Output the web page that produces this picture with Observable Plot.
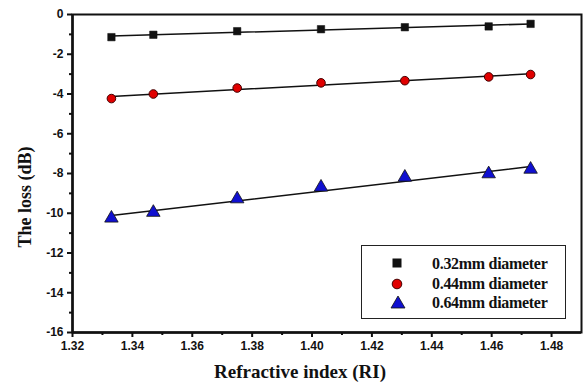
<!DOCTYPE html>
<html>
<head>
<meta charset="utf-8">
<script src="https://cdn.jsdelivr.net/npm/d3@7"></script>
<script src="https://cdn.jsdelivr.net/npm/@observablehq/plot@0.6"></script>
<style>
  html, body { margin: 0; padding: 0; background: #fff; }
  #wrap { position: relative; width: 583px; height: 385px; overflow: hidden; }
  .title { position: absolute; font-family: 'Liberation Serif', 'Times New Roman', 'DejaVu Serif', serif; font-weight: bold; color: #111; white-space: nowrap; }
  #legend { position: absolute; left: 361px; top: 245px; width: 205px; height: 74px; border: 1.5px solid #222; background: #fff; box-sizing: border-box; }
  .row { position: absolute; left: 0; height: 20px; width: 100%; }
  .row svg { position: absolute; left: 28px; top: 0; }
  .row span { position: absolute; left: 70px; top: 0; line-height: 20px; font-family: 'Liberation Serif', 'Times New Roman', 'DejaVu Serif', serif; font-weight: bold; font-size: 16px; color: #111; letter-spacing: -0.3px; }
</style>
</head>
<body>
<div id="wrap"></div>
<script>
const ri = [1.333, 1.347, 1.375, 1.403, 1.431, 1.459, 1.473];
const loss032 = [-1.14, -1.02, -0.84, -0.74, -0.64, -0.60, -0.47];
const loss044 = [-4.23, -4.00, -3.70, -3.44, -3.33, -3.14, -3.02];
const loss064 = [-10.25, -9.96, -9.28, -8.69, -8.19, -8.02, -7.79];
const seriesNames = ["0.32mm diameter", "0.44mm diameter", "0.64mm diameter"];
const xTicks = [1.32, 1.34, 1.36, 1.38, 1.40, 1.42, 1.44, 1.46, 1.48];
const xMinor = [1.33, 1.35, 1.37, 1.39, 1.41, 1.43, 1.45, 1.47];
const yTicks = [0, -2, -4, -6, -8, -10, -12, -14, -16];
const yMinor = [-1, -3, -5, -7, -9, -11, -13, -15];

const d032 = ri.map((x, i) => ({x, y: loss032[i]}));
const d044 = ri.map((x, i) => ({x, y: loss044[i]}));
const d064 = ri.map((x, i) => ({x, y: loss064[i]}));

const tickFont = {fontFamily: "Liberation Sans, Arial, sans-serif", fontWeight: "bold", fontSize: 12};

const chart = Plot.plot({
  width: 583, height: 385,
  marginLeft: 72, marginRight: 2, marginTop: 14, marginBottom: 53,
  style: {background: "#fff", color: "#111", overflow: "visible"},
  x: {domain: [1.32, 1.49]},
  y: {domain: [-16, 0]},
  marks: [
    Plot.axisX(xTicks, {tickSize: 5, tickPadding: 4, strokeWidth: 2, tickFormat: d => d.toFixed(2), label: null, ...tickFont}),
    Plot.axisX(xMinor, {tickSize: 3, strokeWidth: 2, text: null, label: null}),
    Plot.axisY(yTicks, {tickSize: 5, tickPadding: 4, strokeWidth: 2, tickFormat: d => String(d), label: null, ...tickFont}),
    Plot.axisY(yMinor, {tickSize: 3, strokeWidth: 2, text: null, label: null}),
    Plot.frame({stroke: "#111", strokeWidth: 2}),
    Plot.ruleX([1.32], {stroke: "#111", strokeWidth: 2.5}),
    Plot.ruleY([-16], {stroke: "#111", strokeWidth: 2.5}),
    Plot.linearRegressionY(d032, {x: "x", y: "y", ci: 0, stroke: "#111", strokeWidth: 1.5}),
    Plot.linearRegressionY(d044, {x: "x", y: "y", ci: 0, stroke: "#111", strokeWidth: 1.5}),
    Plot.linearRegressionY(d064, {x: "x", y: "y", ci: 0, stroke: "#111", strokeWidth: 1.5}),
    Plot.dot(d032, {x: "x", y: "y", symbol: "square", r: 4.2, fill: "#111", stroke: "#111", strokeWidth: 0.5}),
    Plot.dot(d044, {x: "x", y: "y", symbol: "circle", r: 4.3, fill: "#e00000", stroke: "#400", strokeWidth: 1}),
    Plot.dot(d064, {x: "x", y: "y", symbol: "triangle", r: 5, fill: "#1010d0", stroke: "#111", strokeWidth: 0.8})
  ]
});

const wrap = document.getElementById("wrap");
wrap.appendChild(chart);

const yt = document.createElement("div");
yt.className = "title";
yt.textContent = "The loss (dB)";
yt.style.cssText += "font-size:18px;left:25px;top:197px;transform:translate(-50%,-50%) rotate(-90deg);";
wrap.appendChild(yt);

const xt = document.createElement("div");
xt.className = "title";
xt.textContent = "Refractive index (RI)";
xt.style.cssText += "font-size:19px;left:300px;top:372px;transform:translate(-50%,-50%);";
wrap.appendChild(xt);

const legend = document.createElement("div");
legend.id = "legend";
const syms = [
  '<svg width="14" height="20"><rect x="2.5" y="4.5" width="9" height="9" fill="#111"/></svg>',
  '<svg width="14" height="20"><circle cx="7" cy="10" r="4.8" fill="#e00000" stroke="#400" stroke-width="1"/></svg>',
  '<svg width="16" height="20"><polygon points="8,3 15,15 1,15" fill="#1010d0" stroke="#111" stroke-width="0.8"/></svg>'
];
const tops = [8, 27.5, 46.5];
seriesNames.forEach((name, i) => {
  const r = document.createElement("div");
  r.className = "row";
  r.style.top = tops[i] + "px";
  r.innerHTML = syms[i] + "<span>" + name + "</span>";
  legend.appendChild(r);
});
wrap.appendChild(legend);
</script>
</body>
</html>
